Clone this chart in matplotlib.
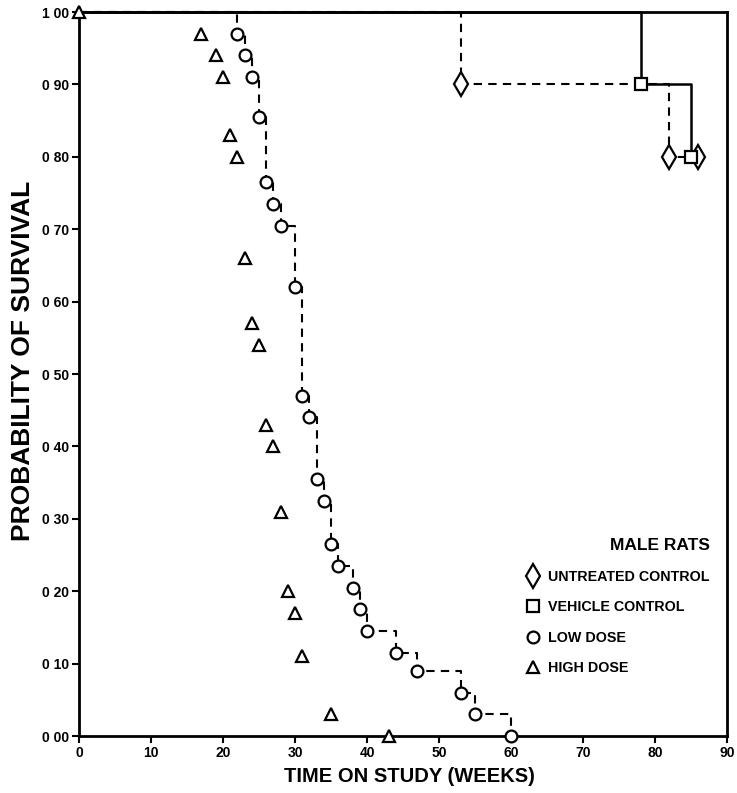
import matplotlib
matplotlib.use('Agg')
import matplotlib.pyplot as plt
from matplotlib.lines import Line2D

# ---- data ----
untreated_weeks = [0, 53, 82, 86]
untreated_surv = [1.00, 0.90, 0.80, 0.80]

vehicle_weeks = [0, 78, 85]
vehicle_surv = [1.00, 0.90, 0.80]

low_weeks = [0, 22, 23, 24, 25, 26, 27, 28, 30, 31, 32, 33, 34, 35, 36, 38, 39, 40, 44, 47, 53, 55, 60]
low_surv = [1.00, 0.97, 0.94, 0.91, 0.855, 0.765, 0.735, 0.705, 0.62, 0.47, 0.44, 0.355, 0.325,
            0.265, 0.235, 0.205, 0.175, 0.145, 0.115, 0.09, 0.06, 0.03, 0.00]

high_weeks = [0, 17, 19, 20, 21, 22, 23, 24, 25, 26, 27, 28, 29, 30, 31, 35, 43]
high_surv = [1.00, 0.97, 0.94, 0.91, 0.83, 0.80, 0.66, 0.57, 0.54, 0.43, 0.40, 0.31,
             0.20, 0.17, 0.11, 0.03, 0.00]

x_ticks = [0, 10, 20, 30, 40, 50, 60, 70, 80, 90]
y_ticks = [0.0, 0.1, 0.2, 0.3, 0.4, 0.5, 0.6, 0.7, 0.8, 0.9, 1.0]
y_tick_labels = ['0 00', '0 10', '0 20', '0 30', '0 40', '0 50', '0 60', '0 70', '0 80', '0 90', '1 00']

legend_title = 'MALE RATS'
legend_labels = ['UNTREATED CONTROL', 'VEHICLE CONTROL', 'LOW DOSE', 'HIGH DOSE']
x_label = 'TIME ON STUDY (WEEKS)'
y_label = 'PROBABILITY OF SURVIVAL'

# ---- figure ----
plt.rcParams['font.family'] = ['Liberation Sans', 'DejaVu Sans']
fig = plt.figure(figsize=(7.37, 7.93), dpi=100)
ax = fig.add_axes([79 / 737, 57 / 793, 648 / 737, 724 / 793])

dash = (0, (4, 3))
mk = dict(mfc='white', mec='black', mew=1.6, ls='none', zorder=5, clip_on=False)

# untreated control
ax.plot(untreated_weeks, untreated_surv, drawstyle='steps-post', ls=dash, color='black', lw=1.5,
        clip_on=False, zorder=3)
ax.plot(untreated_weeks[1:], untreated_surv[1:], marker='d', ms=12, **mk)

# vehicle control
ax.plot(vehicle_weeks, vehicle_surv, drawstyle='steps-post', ls='-', color='black', lw=1.8,
        clip_on=False, zorder=3)
ax.plot(vehicle_weeks[1:], vehicle_surv[1:], marker='s', ms=8, **mk)

# low dose
ax.plot(low_weeks, low_surv, drawstyle='steps-post', ls=dash, color='black', lw=1.5,
        clip_on=False, zorder=3)
ax.plot(low_weeks[1:], low_surv[1:], marker='o', ms=8.5, **mk)

# high dose (markers only)
ax.plot(high_weeks, high_surv, marker='^', ms=9, **mk)

ax.set_xlim(0, 90)
ax.set_ylim(0, 1.0)
ax.set_xticks(x_ticks)
ax.set_xticklabels([str(v) for v in x_ticks], fontsize=10, fontweight='bold')
ax.set_yticks(y_ticks)
ax.set_yticklabels(y_tick_labels, fontsize=10, fontweight='bold')
ax.tick_params(axis='both', direction='out', length=5, width=1.5, pad=2)
for s in ax.spines.values():
    s.set_linewidth(2.0)

ax.set_xlabel(x_label, fontsize=14.5, fontweight='bold')
ax.xaxis.set_label_coords(0.51, -0.043, transform=ax.transAxes)
ax.xaxis.label.set_va('top')
ax.set_ylabel(y_label, fontsize=19, fontweight='bold')
ax.yaxis.set_label_coords(-0.068, 0.518, transform=ax.transAxes)

handles = [
    Line2D([], [], marker='d', ms=12, mfc='white', mec='black', mew=1.6, ls='none'),
    Line2D([], [], marker='s', ms=8, mfc='white', mec='black', mew=1.6, ls='none'),
    Line2D([], [], marker='o', ms=8.5, mfc='white', mec='black', mew=1.6, ls='none'),
    Line2D([], [], marker='^', ms=9, mfc='white', mec='black', mew=1.6, ls='none'),
]
leg = ax.legend(handles, legend_labels, loc='upper left', bbox_to_anchor=(0.677, 0.283),
                frameon=False, prop={'weight': 'bold', 'size': 10.3},
                title=legend_title, title_fontproperties={'weight': 'bold', 'size': 12.5},
                handlelength=1.1, handletextpad=0.55, labelspacing=1.15, borderpad=0,
                alignment='right')
leg._legend_box.sep = 12

fig.savefig('out.png', dpi=100)
